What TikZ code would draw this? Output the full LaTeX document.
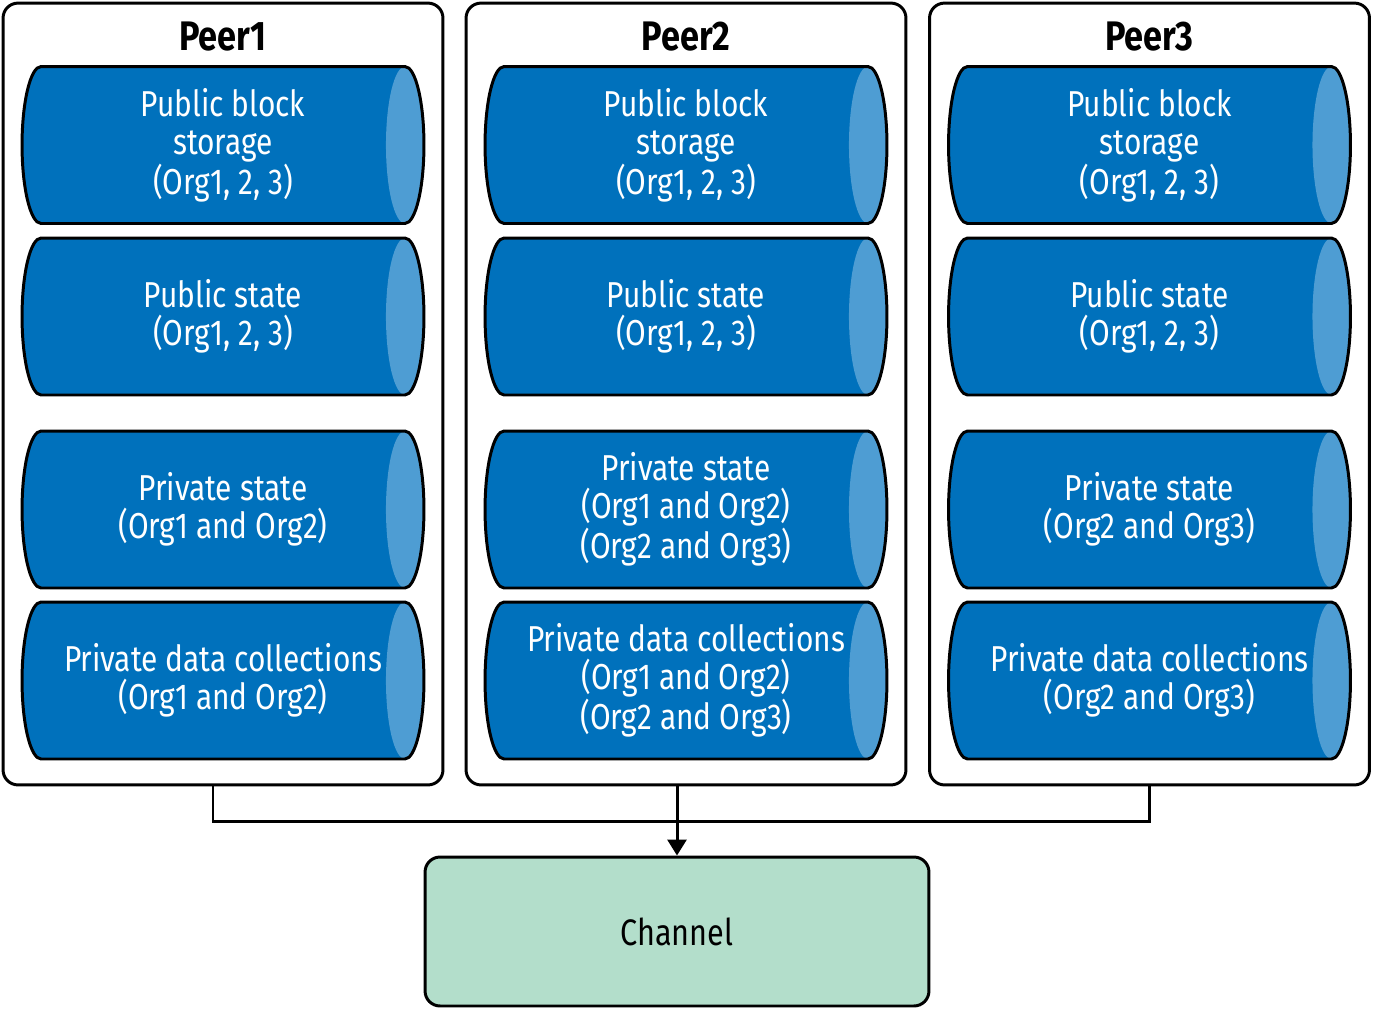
\documentclass[tikz,border=0pt]{standalone}
\usepackage{fontspec}
\setmainfont{Fira Sans}[FakeStretch=0.83]
\usetikzlibrary{positioning, arrows.meta, backgrounds}
\definecolor{cylblue}{RGB}{0,113,188}
\definecolor{cylend}{RGB}{78,157,211}
\definecolor{chgreen}{RGB}{179,222,203}

\begin{document}
\begin{tikzpicture}[
  x=0.02cm, y=-0.02cm,
  peerbox/.style={draw, line width=1.7pt, rounded corners=0.3cm, minimum width=8.8cm, minimum height=15.64cm},
  peertitle/.style={font=\fontsize{23.5}{27}\selectfont\bfseries},
  store/.style={minimum width=8.04cm, minimum height=3.14cm, inner sep=0pt, text=white, align=center, font=\fontsize{20.5}{21.6}\selectfont},
  storepath/.style={insert path={([xshift=4.02cm]#1.center)
      arc[start angle=0, end angle=90, x radius=0.38cm, y radius=1.57cm] -- ++(-7.28cm,0)
      arc[start angle=90, end angle=270, x radius=0.38cm, y radius=1.57cm] -- ++(7.28cm,0)
      arc[start angle=270, end angle=360, x radius=0.38cm, y radius=1.57cm] -- cycle}},
  chanbox/.style={draw, line width=1.7pt, rounded corners=0.3cm, fill=chgreen, minimum width=10.08cm, minimum height=2.98cm, font=\fontsize{21}{24}\selectfont},
  wire/.style={line width=1.7pt},
  arrow/.style={wire, -{Triangle[length=0.32cm, width=0.38cm]}},
]

% Peers
\node[peerbox] (p1) at (223,394) {};
\node[peerbox] (p2) at (686,394) {};
\node[peerbox] (p3) at (1149.5,394) {};

\node[peertitle] (t1) at (223,37) {Peer1};
\node[peertitle] (t2) at (686,37) {Peer2};
\node[peertitle] (t3) at (1149.5,37) {Peer3};

% Peer1 storage
\node[store] (p1a) at (223,145) {Public block\\storage\\(Org1, 2, 3)};
\node[store] (p1b) at (223,316.5) {Public state\\(Org1, 2, 3)};
\node[store] (p1c) at (223,509.5) {Private state\\(Org1 and Org2)};
\node[store] (p1d) at (223,680.5) {Private data collections\\(Org1 and Org2)};

% Peer2 storage
\node[store] (p2a) at (686,145) {Public block\\storage\\(Org1, 2, 3)};
\node[store] (p2b) at (686,316.5) {Public state\\(Org1, 2, 3)};
\node[store] (p2c) at (686,509.5) {Private state\\(Org1 and Org2)\\(Org2 and Org3)};
\node[store] (p2d) at (686,680.5) {Private data collections\\(Org1 and Org2)\\(Org2 and Org3)};

% Peer3 storage
\node[store] (p3a) at (1149.5,145) {Public block\\storage\\(Org1, 2, 3)};
\node[store] (p3b) at (1149.5,316.5) {Public state\\(Org1, 2, 3)};
\node[store] (p3c) at (1149.5,509.5) {Private state\\(Org2 and Org3)};
\node[store] (p3d) at (1149.5,680.5) {Private data collections\\(Org2 and Org3)};

% Cylinders behind the text
\begin{scope}[on background layer]
\fill[white] (0,0) rectangle (1373,1009);
\foreach \n in {p1a,p1b,p1c,p1d,p2a,p2b,p2c,p2d,p3a,p3b,p3c,p3d} {
  \fill[cylblue, storepath=\n];
  \fill[cylend] ([xshift=3.64cm]\n.center) ellipse [x radius=0.38cm, y radius=1.57cm];
  \draw[line width=1.7pt, storepath=\n];
}
\end{scope}

% Channel
\node[chanbox] (ch) at (677,931.5) {Channel};

\coordinate (bus) at (677,821);
\draw[wire] ([xshift=-0.2cm]p1.south) |- (bus) -| (p3.south);
\draw[arrow] (ch.north |- p2.south) -- (ch.north);

\useasboundingbox (0,0) rectangle (1373,1009);
\end{tikzpicture}
\end{document}
